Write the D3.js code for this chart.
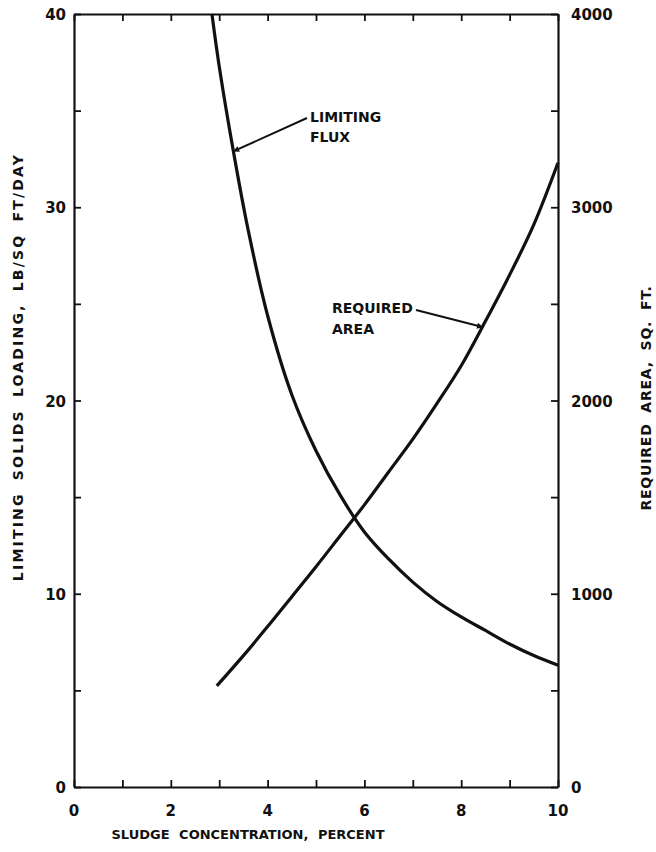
<!DOCTYPE html>
<html>
<head>
<meta charset="utf-8">
<script src="https://cdn.jsdelivr.net/npm/d3@7"></script>
<style>
  body { margin: 0; background: #fff; }
  text { font-family: "DejaVu Sans", sans-serif; font-weight: bold; fill: #111; }
</style>
</head>
<body>
<div id="chart"></div>
<script>
// limiting flux curve
const fluxConc = [2.85, 3.0, 3.3, 3.6, 4.0, 4.5, 5.0, 5.5, 6.0, 6.5, 7.0, 7.5, 8.0, 8.5, 9.0, 9.5, 10];
const fluxValues = [40, 37.3, 32.8, 28.8, 24.4, 20.3, 17.4, 15.1, 13.2, 11.8, 10.6, 9.6, 8.8, 8.1, 7.4, 6.8, 6.3];

// required area curve
const areaConc = [2.95, 3.5, 4.0, 4.5, 5.0, 5.5, 6.0, 6.5, 7.0, 7.5, 8.0, 8.5, 9.0, 9.5, 10];
const areaValues = [523, 680, 830, 985, 1140, 1300, 1460, 1630, 1800, 1985, 2180, 2410, 2650, 2910, 3230];

const xTickLabels = [0, 2, 4, 6, 8, 10];
const leftTickLabels = [0, 10, 20, 30, 40];
const rightTickLabels = [0, 1000, 2000, 3000, 4000];

const w = 656;
const h = 852;
const plotLeft = 74, plotRight = 558, plotTop = 14, plotBottom = 787;

function drawChart() {
  const svg = d3.select("#chart").append("svg")
    .attr("width", w)
    .attr("height", h);

  const xScale = d3.scaleLinear().domain([0, 10]).range([plotLeft, plotRight]);
  const yLeft = d3.scaleLinear().domain([0, 40]).range([plotBottom, plotTop]);
  const yRight = d3.scaleLinear().domain([0, 4000]).range([plotBottom, plotTop]);

  // ticks pointing inward on all four sides, labels drawn separately
  const tickLen = 7;
  const bottomAxis = d3.axisTop(xScale).ticks(10).tickSize(tickLen).tickFormat("").tickSizeOuter(0);
  const topAxis = d3.axisBottom(xScale).ticks(10).tickSize(tickLen).tickFormat("").tickSizeOuter(0);
  const leftAxis = d3.axisRight(yLeft).tickValues(d3.range(0, 41, 5)).tickSize(tickLen).tickFormat("").tickSizeOuter(0);
  const rightAxis = d3.axisLeft(yRight).tickValues(d3.range(0, 4001, 500)).tickSize(tickLen).tickFormat("").tickSizeOuter(0);

  const axes = [
    [bottomAxis, "translate(0," + plotBottom + ")"],
    [topAxis, "translate(0," + plotTop + ")"],
    [leftAxis, "translate(" + plotLeft + ",0)"],
    [rightAxis, "translate(" + plotRight + ",0)"]
  ];
  axes.forEach(function (a) {
    const g = svg.append("g").attr("transform", a[1]).call(a[0]);
    g.select(".domain").attr("stroke", "#111").attr("stroke-width", 2.2);
    g.selectAll(".tick line").attr("stroke", "#111").attr("stroke-width", 1.8);
  });

  // tick labels
  svg.selectAll(".xlab").data(xTickLabels).enter().append("text")
    .attr("x", function (d) { return xScale(d); })
    .attr("y", plotBottom + 29)
    .attr("text-anchor", "middle")
    .style("font-size", "15px")
    .text(function (d) { return d; });

  svg.selectAll(".llab").data(leftTickLabels).enter().append("text")
    .attr("x", plotLeft - 8)
    .attr("y", function (d) { return yLeft(d) + 6; })
    .attr("text-anchor", "end")
    .style("font-size", "15px")
    .text(function (d) { return d; });

  svg.selectAll(".rlab").data(rightTickLabels).enter().append("text")
    .attr("x", plotRight + 13)
    .attr("y", function (d) { return yRight(d) + 6; })
    .attr("text-anchor", "start")
    .style("font-size", "15px")
    .text(function (d) { return d; });

  // curves
  const line = d3.line().curve(d3.curveCatmullRom.alpha(0.5));

  svg.append("path")
    .datum(d3.zip(fluxConc, fluxValues))
    .attr("d", line.x(function (d) { return xScale(d[0]); }).y(function (d) { return yLeft(d[1]); }))
    .attr("fill", "none")
    .attr("stroke", "#111")
    .attr("stroke-width", 3.2);

  svg.append("path")
    .datum(d3.zip(areaConc, areaValues))
    .attr("d", line.x(function (d) { return xScale(d[0]); }).y(function (d) { return yRight(d[1]); }))
    .attr("fill", "none")
    .attr("stroke", "#111")
    .attr("stroke-width", 3.2);

  // arrow heads
  svg.append("defs").append("marker")
    .attr("id", "arrow")
    .attr("viewBox", "0 0 10 10")
    .attr("refX", 9)
    .attr("refY", 5)
    .attr("markerWidth", 9)
    .attr("markerHeight", 6)
    .attr("markerUnits", "userSpaceOnUse")
    .attr("orient", "auto")
    .append("path")
    .attr("d", "M0,0 L10,5 L0,10 z")
    .attr("fill", "#111");

  // LIMITING FLUX label + arrow to curve
  svg.append("line")
    .attr("x1", 307).attr("y1", 118)
    .attr("x2", xScale(3.3)).attr("y2", yLeft(32.9))
    .attr("stroke", "#111").attr("stroke-width", 2)
    .attr("marker-end", "url(#arrow)");
  svg.append("text").attr("x", 310).attr("y", 122).style("font-size", "14px").text("LIMITING");
  svg.append("text").attr("x", 310).attr("y", 142).style("font-size", "14px").text("FLUX");

  // REQUIRED AREA label + arrow
  svg.append("line")
    .attr("x1", 416).attr("y1", 310)
    .attr("x2", xScale(8.44)).attr("y2", yRight(2380))
    .attr("stroke", "#111").attr("stroke-width", 2)
    .attr("marker-end", "url(#arrow)");
  svg.append("text").attr("x", 332).attr("y", 313).style("font-size", "14px").text("REQUIRED");
  svg.append("text").attr("x", 332).attr("y", 334).style("font-size", "14px").text("AREA");

  // axis titles
  svg.append("text")
    .attr("x", 248)
    .attr("y", 839)
    .attr("text-anchor", "middle")
    .style("font-size", "13px")
    .style("word-spacing", "5px")
    .text("SLUDGE CONCENTRATION, PERCENT");

  svg.append("text")
    .attr("transform", "translate(23,367) rotate(-90)")
    .attr("text-anchor", "middle")
    .style("font-size", "14px")
    .style("letter-spacing", "2.2px")
    .style("word-spacing", "5px")
    .text("LIMITING SOLIDS LOADING, LB/SQ FT/DAY");

  svg.append("text")
    .attr("transform", "translate(651,398) rotate(-90)")
    .attr("text-anchor", "middle")
    .style("font-size", "14px")
    .style("letter-spacing", "0.8px")
    .style("word-spacing", "5px")
    .text("REQUIRED AREA, SQ. FT.");
}

drawChart();
</script>
</body>
</html>
